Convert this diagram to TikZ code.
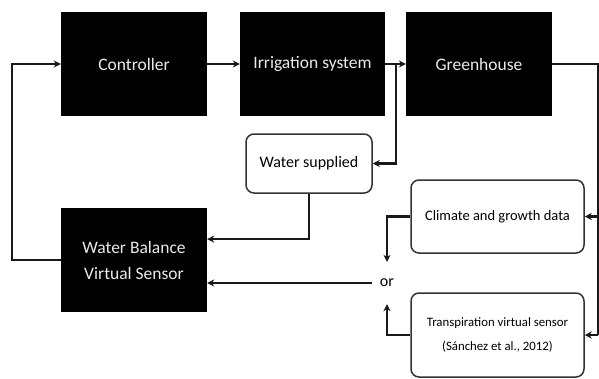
\documentclass[tikz,border=0pt]{standalone}
\usepackage{fontspec}
\setmainfont{Carlito}
\usetikzlibrary{arrows.meta,calc}
\begin{document}
\begin{tikzpicture}[x=1pt,y=-1pt,
  blk/.style={fill=black,draw=none,text=white!92!black,minimum width=146pt,minimum height=104pt,inner sep=0pt,align=center,font=\fontsize{17.5}{26}\selectfont},
  rbox/.style={draw=black!80,line width=1.5pt,rounded corners=8pt,fill=white,inner sep=0pt,align=center},
  conn/.style={line width=2.5pt,draw=black!90},
  arr/.style={conn,-{Stealth[length=7pt,width=7pt]}}]
\useasboundingbox (0,0) rectangle (599,378);
\node[blk] (ctrl) at (134,64) {Controller};
\node[blk,minimum width=145pt] (irr) at (312.5,64) {Irrigation system};
\node[blk] (gh) at (479,64) {Greenhouse};
\node[blk] (wb) at (134,260) {Water Balance\\Virtual Sensor};
\node[rbox,minimum width=126pt,minimum height=59pt,font=\fontsize{16}{20}\selectfont] (ws) at (309,163.5) {Water supplied};
\node[rbox,minimum width=173pt,minimum height=73pt,font=\fontsize{14.5}{18}\selectfont] (clim) at (497.5,216.5) {Climate and growth data};
\node[rbox,minimum width=173pt,minimum height=84pt,font=\fontsize{12.8}{24}\selectfont] (tr) at (497.5,335) {Transpiration virtual sensor\\(Sánchez et al., 2012)};
\node[inner sep=0pt,minimum width=30pt,minimum height=42pt,font=\fontsize{16}{20}\selectfont] (or) at (387,283) {or};
\coordinate (br) at (396,64);
\coordinate (rr) at (598,335);
\coordinate (rc) at (598,216.5);
\draw[arr] (ctrl.east) -- (irr.west);
\draw[arr] (irr.east) -- (gh.west);
\draw[arr] (br) |- (ws.east);
\draw[arr] (ws.south) |- ($(wb.north east)!0.3!(wb.south east)$);
\draw[arr] (wb.west) -- ++(-49,0) |- (ctrl.west);
\draw[conn] (gh.east) -| (rr);
\draw[arr] (rc) -- (clim.east);
\draw[arr] (rr) -- (tr.east);
\draw[arr] (clim.west) -| (or.north);
\draw[arr] (tr.west) -| (or.south);
\draw[arr] (or.west) -- (wb.east |- or.west);
\end{tikzpicture}
\end{document}
